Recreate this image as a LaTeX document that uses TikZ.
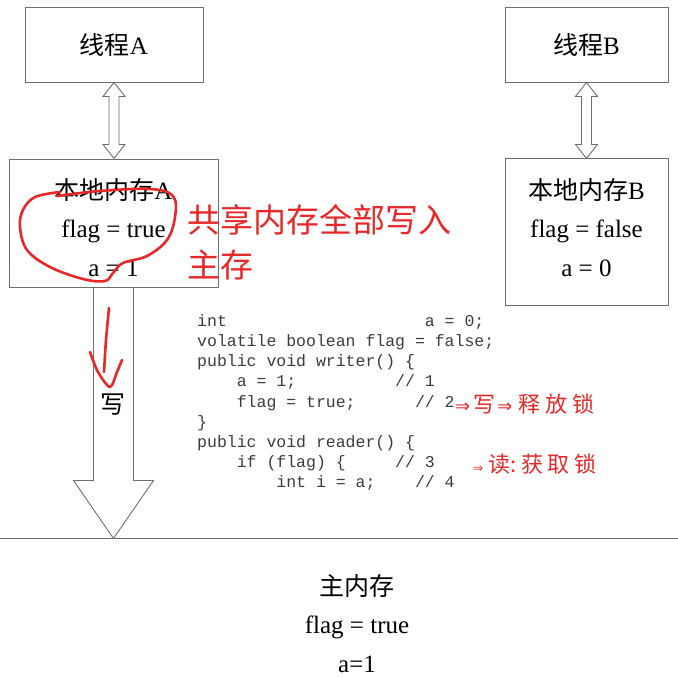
\documentclass[tikz,border=0pt]{standalone}
\usepackage{fontspec}
\setmainfont{Liberation Serif}
\setmonofont{Liberation Mono}
\newfontfamily\cjk{Noto Sans CJK SC}
\newfontfamily\symfont{DejaVu Sans}
\usetikzlibrary{positioning}

\definecolor{linegray}{RGB}{110,110,110}
\definecolor{codegray}{RGB}{60,60,60}
\definecolor{penred}{RGB}{232,40,40}

% hollow double arrow, length #1 (downwards from the current origin)
\newcommand{\hollowdbl}[1]{%
  \draw[linegray, line width=0.9pt, fill=white]
    (0,0) -- (11,14) -- (5,14) -- (5,#1-14) -- (11,#1-14) -- (0,#1)
    -- (-11,#1-14) -- (-5,#1-14) -- (-5,14) -- (-11,14) -- cycle;}
\newcommand{\penarrow}[1]{{\symfont\fontsize{#1}{#1}\selectfont ⇒}}

\begin{document}
\begin{tikzpicture}[x=1pt, y=-1pt,
    box/.style={draw=linegray, line width=0.9pt, inner sep=0pt},
    big/.style={font=\fontsize{25}{38.5}\selectfont, align=center, inner sep=0pt},
    pen/.style={penred, line width=2.6pt, line cap=round, line join=round}]
	\useasboundingbox (0,0) rectangle (678,678);

	% threads and local memories
	\node[box, minimum width=178pt, minimum height=75pt] (threadA) at (114,44.5) {};
	\node[big] at (threadA) {{\cjk 线程}A};
	\node[box, minimum width=163pt, minimum height=75pt] (threadB) at (586.5,44.5) {};
	\node[big] at (threadB) {{\cjk 线程}B};

	\node[box, minimum width=209pt, minimum height=128pt] (localA) at (113.5,223) {};
	\node[big] (localAtxt) at (113.5,227.5) {{\cjk 本地内存}A\\flag = true\\a = 1};
	\node[box, minimum width=163pt, minimum height=147pt] (localB) at (586.5,231.5) {};
	\node[big] (localBtxt) at (586.5,227.5) {{\cjk 本地内存}B\\flag = false\\a = 0};

	\begin{scope}[shift={(threadA.south)}] \hollowdbl{76} \end{scope}
	\begin{scope}[shift={(threadB.south)}] \hollowdbl{76} \end{scope}

	% big write arrow
	\begin{scope}[shift={(localA.south)}]
		\draw[linegray, line width=0.9pt] (-20,0) -- (-20,193) -- (-40,193) -- (0,251)
			-- (40,193) -- (20,193) -- (20,0);
	\end{scope}
	\node[big] (write) at (113,405) {\cjk 写};

	% main memory
	\draw[linegray, line width=0.9pt] (0,538) -- (678,538);
	\node[big] (mainmem) at (357,623.5) {{\cjk 主内存}\\flag = true\\a=1};

	% code
	\node[anchor=north west, inner sep=0pt, align=left, codegray,
		font=\ttfamily\fontsize{16.5}{20.1}\selectfont] (code) at (197,314.5) {%
int~~~~~~~~~~~~~~~~~~~~a = 0;\\
volatile boolean flag = false;\\
public void writer() \{\\
\mbox{}~~~~a = 1;~~~~~~~~~~// 1\\
\mbox{}~~~~flag = true;~~~~~~// 2\\
\}\\
public void reader() \{\\
\mbox{}~~~~if (flag) \{~~~~~// 3\\
\mbox{}~~~~~~~~int i = a;~~~~// 4};

	% red notes
	\draw[pen] plot[smooth, tension=0.6] coordinates {(57,196) (100,191) (150,189) (173,196)
		(175,217) (167,240) (147,256) (123,263) (113,273) (105,281) (83,279) (50,267)
		(27,250) (20,227) (23,210) (35,197) (60,192)};
	\node[anchor=west, penred, align=left, inner sep=0pt,
		font=\cjk\fontsize{33}{45}\selectfont] (note) at (187,242) {共享内存全部写入\\主存};
	\draw[pen] plot[smooth] coordinates {(109,308) (106,340) (104,372)};
	\draw[pen] plot[smooth] coordinates {(90,352) (98,372) (110,387) (117,372) (122,360)};

	\node[anchor=west, penred, inner sep=0pt, font=\cjk\fontsize{22}{22}\selectfont]
		(relnote) at (455,404) {\penarrow{18}\hspace{3pt}写\hspace{2pt}\penarrow{18}\hspace{6pt}释\hspace{5pt}放\hspace{5pt}锁};
	\node[anchor=west, penred, inner sep=0pt, font=\cjk\fontsize{22}{22}\selectfont]
		(acqnote) at (473,464) {\penarrow{12}\hspace{5pt}读:\hspace{5pt}获\hspace{4pt}取\hspace{5pt}锁};
\end{tikzpicture}
\end{document}
